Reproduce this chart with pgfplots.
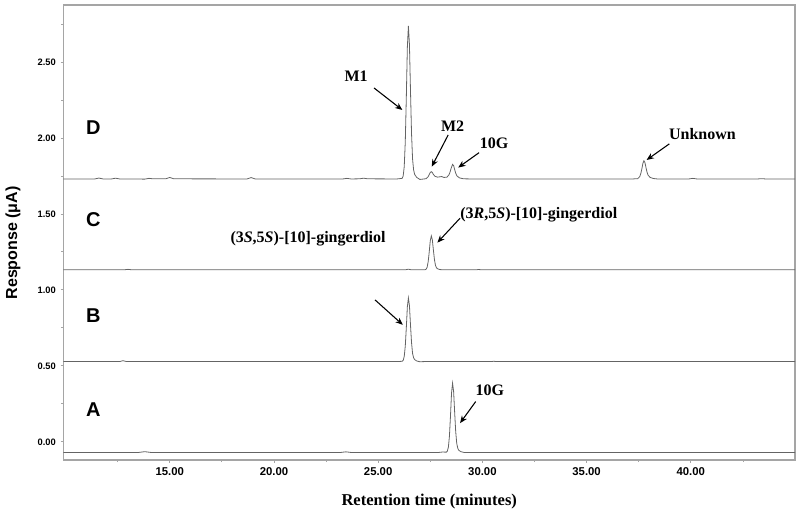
\documentclass[border=0pt]{standalone}
\usepackage{fontspec}
\setmainfont{Liberation Serif}
\setsansfont{Liberation Sans}
\usepackage{pgfplots}
\pgfplotsset{compat=1.18}
\usetikzlibrary{arrows.meta}
\definecolor{axisgray}{RGB}{165,165,165}
\definecolor{trace}{RGB}{100,100,100}

\begin{document}
\begin{tikzpicture}
  \begin{axis}[
      name=ax,
      scale only axis,
      width=548.6pt,
      height=341.25pt,
      xmin=9.9, xmax=45,
      ymin=-0.12, ymax=2.875,
      xtick={15,20,25,30,35,40},
      minor xtick={12.5,17.5,22.5,27.5,32.5,37.5,42.5},
      ytick={0,0.5,1,1.5,2,2.5},
      minor ytick={0.25,0.75,1.25,1.75,2.25,2.75},
      xtick pos=bottom, ytick pos=left,
      tick align=outside,
      major tick length=2.2pt,
      minor tick length=1.6pt,
      tick style={draw=axisgray, line width=0.6pt},
      axis line style={draw=axisgray, line width=0.9pt},
      scaled ticks=false,
      /pgf/number format/fixed,
      /pgf/number format/fixed zerofill,
      /pgf/number format/precision=2,
      /pgf/number format/assume math mode=true,
      yticklabel style={font=\sffamily\bfseries\fontsize{7}{8}\selectfont},
      xticklabel style={font=\sffamily\bfseries\fontsize{8.5}{9}\selectfont},
      xlabel={Retention time (minutes)},
      xlabel style={font=\rmfamily\bfseries\fontsize{12.4}{14}\selectfont,
        at={(axis description cs:0.5,-0.0917)}, anchor=center},
      ylabel={Response (μA)},
      ylabel style={font=\sffamily\bfseries\fontsize{12}{14}\selectfont,
        at={(axis description cs:-0.0691,0.477)}, anchor=center},
      clip=false,
      chrom/.style={draw=trace, line width=0.6pt, mark=none},
    ]

    % D
    \addplot[chrom] coordinates {
        (9.9,1.730) (11.4,1.730) (11.6,1.736) (11.8,1.730) (12.2,1.730) (12.4,1.735)
        (12.6,1.730) (13.8,1.729) (14.0,1.734) (14.2,1.731) (14.8,1.731) (15.0,1.740)
        (15.2,1.731) (18.7,1.730) (18.9,1.739) (19.1,1.730) (23.3,1.730) (23.5,1.734)
        (23.7,1.730) (24.1,1.731) (24.3,1.735) (24.5,1.731) (25.9,1.730)
        (26.15,1.734) (26.20,1.750) (26.25,1.811) (26.30,1.972) (26.35,2.264)
        (26.40,2.596) (26.45,2.737) (26.50,2.616) (26.55,2.314) (26.60,2.032)
        (26.65,1.861) (26.70,1.790) (26.75,1.760) (26.85,1.740) (27.0,1.727)
        (27.2,1.730) (27.30,1.732) (27.40,1.745) (27.45,1.760) (27.50,1.773)
        (27.55,1.778) (27.60,1.772) (27.65,1.760) (27.72,1.748) (27.85,1.742)
        (28.05,1.746) (28.15,1.740) (28.30,1.742) (28.40,1.758) (28.45,1.776)
        (28.50,1.800) (28.57,1.826) (28.62,1.818) (28.67,1.792) (28.72,1.768)
        (28.78,1.750) (28.9,1.737) (29.1,1.731) (29.5,1.730) (37.2,1.730)
        (37.45,1.732) (37.55,1.745) (37.60,1.765) (37.65,1.795) (37.70,1.832)
        (37.75,1.850) (37.80,1.838) (37.85,1.805) (37.90,1.775) (37.95,1.755)
        (38.05,1.740) (38.2,1.733) (38.4,1.730) (39.9,1.730) (40.1,1.734)
        (40.3,1.730) (43.2,1.730) (43.4,1.732) (43.6,1.730) (45.0,1.730)
      };

    % C
    \addplot[chrom] coordinates {
        (9.9,1.132) (12.8,1.132) (13.0,1.135) (13.2,1.132) (26.3,1.132)
        (26.45,1.136) (26.6,1.132) (27.15,1.132) (27.25,1.133) (27.30,1.136)
        (27.35,1.150) (27.40,1.186) (27.45,1.250) (27.50,1.324) (27.55,1.355)
        (27.60,1.328) (27.65,1.261) (27.70,1.199) (27.75,1.161) (27.80,1.145)
        (27.85,1.139) (27.95,1.134) (28.1,1.132) (29.7,1.132) (29.8,1.134)
        (30.0,1.132) (45.0,1.132)
      };

    % B
    \addplot[chrom] coordinates {
        (9.9,0.528) (12.6,0.528) (12.75,0.534) (12.9,0.529) (13.1,0.528)
        (25.9,0.528) (26.15,0.530) (26.20,0.536) (26.25,0.562) (26.30,0.629)
        (26.35,0.750) (26.40,0.888) (26.45,0.947) (26.50,0.897) (26.55,0.771)
        (26.60,0.654) (26.65,0.582) (26.70,0.553) (26.75,0.541) (26.85,0.532)
        (27.0,0.527) (27.2,0.528) (30.4,0.528) (30.55,0.530) (30.7,0.528)
        (45.0,0.528)
      };

    % A
    \addplot[chrom] coordinates {
        (9.9,-0.070) (13.5,-0.070) (13.8,-0.065) (14.1,-0.070) (23.2,-0.070)
        (23.45,-0.066) (23.7,-0.070) (27.9,-0.070) (28.1,-0.067) (28.2,-0.068)
        (28.27,-0.068) (28.32,-0.061) (28.37,-0.034) (28.42,0.039) (28.47,0.172)
        (28.52,0.322) (28.57,0.386) (28.62,0.331) (28.67,0.194) (28.72,0.067)
        (28.77,-0.011) (28.82,-0.043) (28.87,-0.056) (28.97,-0.065) (29.12,-0.070)
        (45.0,-0.070)
      };

    % panel letters
    \begin{scope}[every node/.style={font=\sffamily\bfseries\fontsize{15}{17}\selectfont}]
      \node at (axis cs:11.33,2.068) {D};
      \node at (axis cs:11.33,1.461) {C};
      \node at (axis cs:11.33,0.829) {B};
      \node at (axis cs:11.33,0.211) {A};
    \end{scope}

    % annotations
    \begin{scope}[every node/.style={font=\rmfamily\bfseries\fontsize{12}{14}\selectfont, inner sep=0pt},
        arr/.style={-{Stealth[length=5.5pt,width=4.5pt]}, line width=0.8pt, black}]
      \node at (axis cs:23.94,2.408) {M1};
      \draw[arr] (axis cs:24.80,2.329) -- (axis cs:26.16,2.184);
      \node at (axis cs:28.57,2.074) {M2};
      \draw[arr] (axis cs:28.36,2.020) -- (axis cs:27.57,1.811);
      \node at (axis cs:30.56,1.967) {10G};
      \draw[arr] (axis cs:29.84,1.903) -- (axis cs:28.84,1.805);
      \node at (axis cs:40.56,2.026) {Unknown};
      \draw[arr] (axis cs:38.97,1.961) -- (axis cs:37.88,1.855);
      \node[anchor=west] at (axis cs:28.93,1.493) {(3\textit{R},5\textit{S})-[10]-gingerdiol};
      \draw[arr] (axis cs:28.93,1.472) -- (axis cs:27.84,1.311);
      \node[anchor=east] at (axis cs:25.37,1.336) {(3\textit{S},5\textit{S})-[10]-gingerdiol};
      \draw[arr] (axis cs:24.85,0.934) -- (axis cs:26.18,0.770);
      \node at (axis cs:30.36,0.342) {10G};
      \draw[arr] (axis cs:29.68,0.265) -- (axis cs:28.93,0.123);
    \end{scope}
  \end{axis}
  \pgfresetboundingbox
  \path[use as bounding box] ([shift={(-47.6pt,-44.25pt)}]ax.south west)
    rectangle ([shift={(3.75pt,3.75pt)}]ax.north east);
\end{tikzpicture}
\end{document}
